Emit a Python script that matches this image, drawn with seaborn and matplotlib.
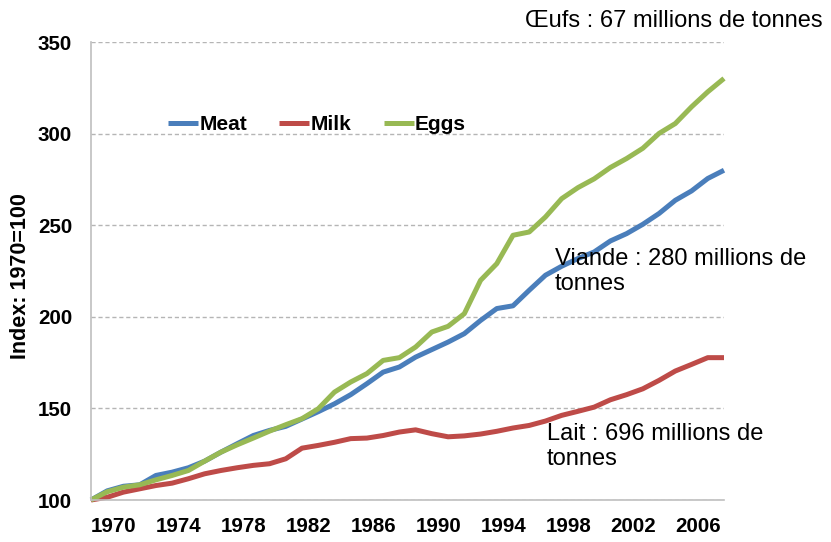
import matplotlib
matplotlib.use("Agg")
import matplotlib.pyplot as plt
import numpy as np
import pandas as pd
import seaborn as sns

# ---- data (Index: 1970=100) ----
years = list(range(1970, 2010))
meat = [100, 105, 107.5, 108.3, 113.4, 115.2, 117.6, 121.2, 126.1, 130.7,
        135.2, 138, 140.2, 144.2, 148.2, 152.5, 157.5, 163.5, 169.8, 172.6,
        178, 182.1, 186.2, 190.8, 198, 204.5, 206, 214.5, 222.7, 227.6,
        231.8, 235.4, 241.4, 245.4, 250.5, 256.4, 263.6, 268.7, 275.5, 280]
milk = [100, 101.5, 104.3, 106.1, 107.9, 109.2, 111.6, 114.3, 116.1, 117.6,
        118.9, 119.8, 122.5, 128.3, 129.8, 131.5, 133.5, 133.8, 135.2, 137.1,
        138.3, 136.2, 134.5, 135, 136, 137.5, 139.3, 140.7, 143.1, 146.2,
        148.4, 150.7, 154.7, 157.5, 160.7, 165.3, 170.4, 174, 177.7, 177.7]
eggs = [100, 104.5, 107, 108.3, 111, 113.4, 116.1, 121.2, 126.1, 130.1,
        133.8, 137.6, 141.1, 144.4, 149.8, 158.9, 164.4, 169, 176.2, 177.7,
        183.5, 191.7, 194.8, 201.7, 219.9, 229, 244.5, 246.3, 254.5, 264.5,
        270.5, 275.3, 281.5, 286.4, 292, 300.1, 305.5, 314.6, 322.8, 330.1]
series_names = ["Meat", "Milk", "Eggs"]
series_colors = ["#4A7EBB", "#BE4B48", "#98B954"]
xtick_years = list(range(1970, 2007, 4))
ytick_values = [100, 150, 200, 250, 300, 350]
y_label = "Index: 1970=100"
note_eggs = "Œufs : 67 millions de tonnes"
note_meat = "Viande : 280 millions de\ntonnes"
note_milk = "Lait : 696 millions de\ntonnes"

df = pd.DataFrame({
    "Year": years * 3,
    "Index": meat + milk + eggs,
    "Series": [n for n in series_names for _ in years],
})

sns.set_style("white")
plt.rcParams["font.family"] = ["Liberation Sans", "DejaVu Sans"]
plt.rcParams["text.color"] = "black"
plt.rcParams["axes.labelcolor"] = "black"
plt.rcParams["xtick.color"] = "black"
plt.rcParams["ytick.color"] = "black"

W, H = 831, 542
fig = plt.figure(figsize=(W / 100, H / 100), dpi=100)
ax = fig.add_axes([91 / W, (H - 500) / H, 633 / W, 458 / H])

sns.lineplot(data=df, x="Year", y="Index", hue="Series", hue_order=series_names,
             palette=series_colors, linewidth=3.6, ax=ax)
for ln in ax.get_lines():
    ln.set_clip_on(False)
    ln.set_solid_joinstyle("round")
    ln.set_solid_capstyle("butt")

ax.set_xlim(1970, 2009)
ax.set_ylim(100, 350)
ax.set_xticks(xtick_years)
ax.set_yticks(ytick_values)
ax.set_xticklabels([str(y) for y in xtick_years])
for lbl in ax.get_xticklabels():
    lbl.set_horizontalalignment("left")
for lbl in ax.get_xticklabels() + ax.get_yticklabels():
    lbl.set_fontweight("bold")

for s in ["top", "right"]:
    ax.spines[s].set_visible(False)
for s in ["left", "bottom"]:
    ax.spines[s].set_color("#BFBFBF")
    ax.spines[s].set_linewidth(1.2)
ax.tick_params(axis="both", direction="out", length=4.5, width=1,
               color="#BFBFBF", labelsize=14.8, labelcolor="black")
ax.tick_params(axis="x", pad=8)
ax.tick_params(axis="y", pad=9)

ax.set_axisbelow(True)
ax.yaxis.grid(True, linestyle=(0, (3, 2)), color="#B5B5B5", linewidth=1)
ax.xaxis.grid(False)

ax.set_xlabel("")
ax.set_ylabel(y_label, fontsize=15.5, fontweight="bold", va="center", color="black")
ax.yaxis.set_label_coords((20.5 - 91) / 633, (500 - 276) / 458)

handles, labels = ax.get_legend_handles_labels()
leg = ax.legend(handles, labels, ncol=3, frameon=False, loc="center left",
                bbox_to_anchor=(168 / W, 1 - 125 / H), bbox_transform=fig.transFigure,
                borderpad=0, borderaxespad=0, handlelength=1.45, handletextpad=0.05,
                columnspacing=1.55, prop={"weight": "bold", "size": 15})
for lh in leg.get_lines():
    lh.set_linewidth(3.6)
for t in leg.get_texts():
    t.set_color("black")

def px_to_x(px):
    return 1970 + (px - 91) / 633 * 39

def py_to_y(py):
    return 100 + (500 - py) / 458 * 250

ax.text(px_to_x(525), py_to_y(10), note_eggs, fontsize=17, va="top", ha="left",
        color="black", clip_on=False)
ax.text(px_to_x(555), py_to_y(248), note_meat, fontsize=17, va="top", ha="left",
        color="black", linespacing=1.2)
ax.text(px_to_x(547), py_to_y(423), note_milk, fontsize=17, va="top", ha="left",
        color="black", linespacing=1.2)

fig.savefig("out.png", dpi=100)
